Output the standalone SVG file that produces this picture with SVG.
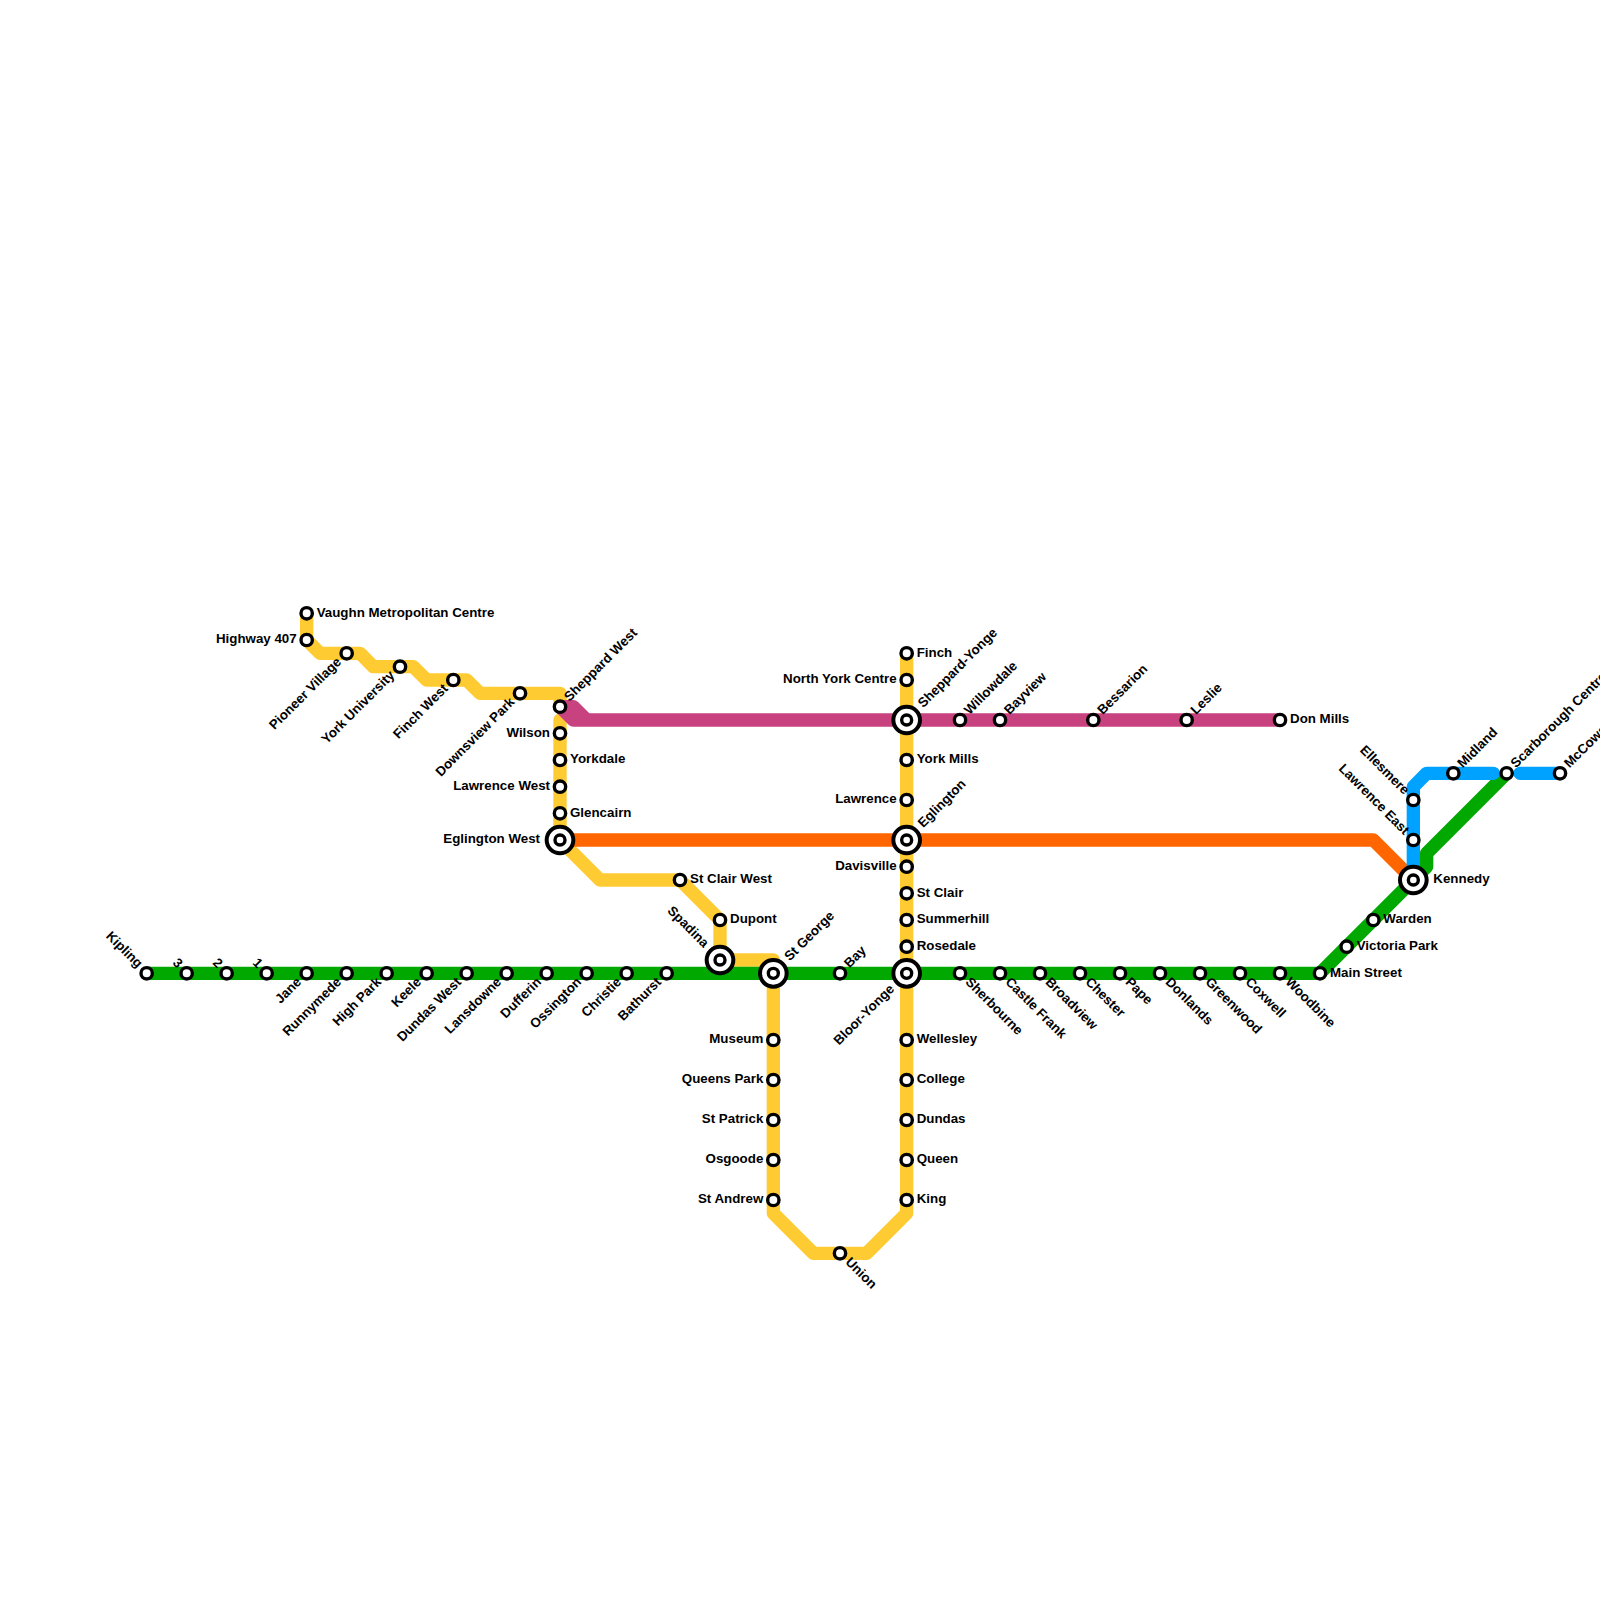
<svg xmlns="http://www.w3.org/2000/svg" width="1600" height="1600" viewBox="0 0 1600 1600">
<style>
.ln{fill:none;stroke-width:13.33;stroke-linejoin:round;stroke-linecap:round}
.y{stroke:#ffcb33}.g{stroke:#00a800}.o{stroke:#ff6600}.p{stroke:#c94280}.b{stroke:#00a2ff}
.s{fill:#fff;stroke:#000;stroke-width:3.4}
.r{fill:#fff;stroke:#000;stroke-width:4}
text{font-family:"Liberation Sans",Arial,sans-serif;font-size:13.33px;font-weight:bold;fill:#000}
.e{text-anchor:end}
</style>
<rect width="1600" height="1600" fill="#fff"/>
<g id="connectors">
<path class="ln y" d="M306.67 613.33V640L320 653.33H360L373.33 666.67H413.33L426.67 680H466.67L480 693.33H560V706.67"/>
<path class="ln y" d="M560 720V840L600 880H680L720 920V960H773.33V1213.33L813.33 1253.33H866.67L906.67 1213.33V653.33"/>
<path class="ln g" d="M146.67 973.33H1320L1413.33 880L1426.67 866.67V853.33L1506.67 773.33"/>
<path class="ln o" d="M560 840H1373.33L1413.33 880"/>
<path class="ln p" d="M560 706.67H573.33L586.67 720H1280M560 706.67L573.33 720H586.67"/>
<path class="ln b" d="M1413.33 880V786.67L1426.67 773.33H1493.33M1520 773.33H1560"/>
</g>
<g id="kipling"><circle class="s" cx="146.67" cy="973.33" r="5.67"/><text class="e" transform="translate(146.67 973.33) rotate(45)" x="-10" y="3.33">Kipling</text></g>
<g id="st3"><circle class="s" cx="186.67" cy="973.33" r="5.67"/><text class="e" transform="translate(186.67 973.33) rotate(45)" x="-10" y="3.33">3</text></g>
<g id="st2"><circle class="s" cx="226.67" cy="973.33" r="5.67"/><text class="e" transform="translate(226.67 973.33) rotate(45)" x="-10" y="3.33">2</text></g>
<g id="st1"><circle class="s" cx="266.67" cy="973.33" r="5.67"/><text class="e" transform="translate(266.67 973.33) rotate(45)" x="-10" y="3.33">1</text></g>
<g id="jane"><circle class="s" cx="306.67" cy="973.33" r="5.67"/><text class="e" transform="translate(306.67 973.33) rotate(-45)" x="-10" y="3.33">Jane</text></g>
<g id="runnymede"><circle class="s" cx="346.67" cy="973.33" r="5.67"/><text class="e" transform="translate(346.67 973.33) rotate(-45)" x="-10" y="3.33">Runnymede</text></g>
<g id="high-park"><circle class="s" cx="386.67" cy="973.33" r="5.67"/><text class="e" transform="translate(386.67 973.33) rotate(-45)" x="-10" y="3.33">High Park</text></g>
<g id="keele"><circle class="s" cx="426.67" cy="973.33" r="5.67"/><text class="e" transform="translate(426.67 973.33) rotate(-45)" x="-10" y="3.33">Keele</text></g>
<g id="dundas-west"><circle class="s" cx="466.67" cy="973.33" r="5.67"/><text class="e" transform="translate(466.67 973.33) rotate(-45)" x="-10" y="3.33">Dundas West</text></g>
<g id="lansdowne"><circle class="s" cx="506.67" cy="973.33" r="5.67"/><text class="e" transform="translate(506.67 973.33) rotate(-45)" x="-10" y="3.33">Lansdowne</text></g>
<g id="dufferin"><circle class="s" cx="546.67" cy="973.33" r="5.67"/><text class="e" transform="translate(546.67 973.33) rotate(-45)" x="-10" y="3.33">Dufferin</text></g>
<g id="ossington"><circle class="s" cx="586.67" cy="973.33" r="5.67"/><text class="e" transform="translate(586.67 973.33) rotate(-45)" x="-10" y="3.33">Ossington</text></g>
<g id="christie"><circle class="s" cx="626.67" cy="973.33" r="5.67"/><text class="e" transform="translate(626.67 973.33) rotate(-45)" x="-10" y="3.33">Christie</text></g>
<g id="bathurst"><circle class="s" cx="666.67" cy="973.33" r="5.67"/><text class="e" transform="translate(666.67 973.33) rotate(-45)" x="-10" y="3.33">Bathurst</text></g>
<g id="spadina"><circle class="r" cx="720" cy="960" r="13.33"/><circle class="s" cx="720" cy="960" r="5"/><text class="e" transform="translate(720 960) rotate(45)" x="-20" y="3.33">Spadina</text></g>
<g id="st-george"><circle class="r" cx="773.33" cy="973.33" r="13.33"/><circle class="s" cx="773.33" cy="973.33" r="5"/><text transform="translate(773.33 973.33) rotate(-45)" x="20" y="3.33">St George</text></g>
<g id="bay"><circle class="s" cx="840" cy="973.33" r="5.67"/><text transform="translate(840 973.33) rotate(-45)" x="10" y="3.33">Bay</text></g>
<g id="bloor-yonge"><circle class="r" cx="906.67" cy="973.33" r="13.33"/><circle class="s" cx="906.67" cy="973.33" r="5"/><text class="e" transform="translate(906.67 973.33) rotate(-45)" x="-20" y="3.33">Bloor-Yonge</text></g>
<g id="sherbourne"><circle class="s" cx="960" cy="973.33" r="5.67"/><text transform="translate(960 973.33) rotate(45)" x="10" y="3.33">Sherbourne</text></g>
<g id="castle-frank"><circle class="s" cx="1000" cy="973.33" r="5.67"/><text transform="translate(1000 973.33) rotate(45)" x="10" y="3.33">Castle Frank</text></g>
<g id="broadview"><circle class="s" cx="1040" cy="973.33" r="5.67"/><text transform="translate(1040 973.33) rotate(45)" x="10" y="3.33">Broadview</text></g>
<g id="chester"><circle class="s" cx="1080" cy="973.33" r="5.67"/><text transform="translate(1080 973.33) rotate(45)" x="10" y="3.33">Chester</text></g>
<g id="pape"><circle class="s" cx="1120" cy="973.33" r="5.67"/><text transform="translate(1120 973.33) rotate(45)" x="10" y="3.33">Pape</text></g>
<g id="donlands"><circle class="s" cx="1160" cy="973.33" r="5.67"/><text transform="translate(1160 973.33) rotate(45)" x="10" y="3.33">Donlands</text></g>
<g id="greenwood"><circle class="s" cx="1200" cy="973.33" r="5.67"/><text transform="translate(1200 973.33) rotate(45)" x="10" y="3.33">Greenwood</text></g>
<g id="coxwell"><circle class="s" cx="1240" cy="973.33" r="5.67"/><text transform="translate(1240 973.33) rotate(45)" x="10" y="3.33">Coxwell</text></g>
<g id="woodbine"><circle class="s" cx="1280" cy="973.33" r="5.67"/><text transform="translate(1280 973.33) rotate(45)" x="10" y="3.33">Woodbine</text></g>
<g id="main-street"><circle class="s" cx="1320" cy="973.33" r="5.67"/><text x="1330" y="976.67">Main Street</text></g>
<g id="victoria-park"><circle class="s" cx="1346.67" cy="946.67" r="5.67"/><text x="1356.67" y="950">Victoria Park</text></g>
<g id="warden"><circle class="s" cx="1373.33" cy="920" r="5.67"/><text x="1383.33" y="923.33">Warden</text></g>
<g id="kennedy"><circle class="r" cx="1413.33" cy="880" r="13.33"/><circle class="s" cx="1413.33" cy="880" r="5"/><text x="1433.33" y="883.33">Kennedy</text></g>
<g id="lawrence-east"><circle class="s" cx="1413.33" cy="840" r="5.67"/><text class="e" transform="translate(1413.33 840) rotate(45)" x="-10" y="3.33">Lawrence East</text></g>
<g id="ellesmere"><circle class="s" cx="1413.33" cy="800" r="5.67"/><text class="e" transform="translate(1413.33 800) rotate(45)" x="-10" y="3.33">Ellesmere</text></g>
<g id="midland"><circle class="s" cx="1453.33" cy="773.33" r="5.67"/><text transform="translate(1453.33 773.33) rotate(-45)" x="10" y="3.33">Midland</text></g>
<g id="scarborough-centre"><circle class="s" cx="1506.67" cy="773.33" r="5.67"/><text transform="translate(1506.67 773.33) rotate(-45)" x="10" y="3.33">Scarborough Centre</text></g>
<g id="mccowan"><circle class="s" cx="1560" cy="773.33" r="5.67"/><text transform="translate(1560 773.33) rotate(-45)" x="10" y="3.33">McCowan</text></g>
<g id="vaughn"><circle class="s" cx="306.67" cy="613.33" r="5.67"/><text x="316.67" y="616.67">Vaughn Metropolitan Centre</text></g>
<g id="highway-407"><circle class="s" cx="306.67" cy="640" r="5.67"/><text class="e" x="296.67" y="643.33">Highway 407</text></g>
<g id="pioneer-village"><circle class="s" cx="346.67" cy="653.33" r="5.67"/><text class="e" transform="translate(346.67 653.33) rotate(-45)" x="-10" y="3.33">Pioneer Village</text></g>
<g id="york-university"><circle class="s" cx="400" cy="666.67" r="5.67"/><text class="e" transform="translate(400 666.67) rotate(-45)" x="-10" y="3.33">York University</text></g>
<g id="finch-west"><circle class="s" cx="453.33" cy="680" r="5.67"/><text class="e" transform="translate(453.33 680) rotate(-45)" x="-10" y="3.33">Finch West</text></g>
<g id="downsview-park"><circle class="s" cx="520" cy="693.33" r="5.67"/><text class="e" transform="translate(520 693.33) rotate(-45)" x="-10" y="3.33">Downsview Park</text></g>
<g id="sheppard-west"><circle class="s" cx="560" cy="706.67" r="5.67"/><text transform="translate(560 706.67) rotate(-45)" x="10" y="3.33">Sheppard West</text></g>
<g id="wilson"><circle class="s" cx="560" cy="733.33" r="5.67"/><text class="e" x="550" y="736.67">Wilson</text></g>
<g id="yorkdale"><circle class="s" cx="560" cy="760" r="5.67"/><text x="570" y="763.33">Yorkdale</text></g>
<g id="lawrence-west"><circle class="s" cx="560" cy="786.67" r="5.67"/><text class="e" x="550" y="790">Lawrence West</text></g>
<g id="glencairn"><circle class="s" cx="560" cy="813.33" r="5.67"/><text x="570" y="816.67">Glencairn</text></g>
<g id="eglinton-west"><circle class="r" cx="560" cy="840" r="13.33"/><circle class="s" cx="560" cy="840" r="5"/><text class="e" x="540" y="843.33">Eglington West</text></g>
<g id="st-clair-west"><circle class="s" cx="680" cy="880" r="5.67"/><text x="690" y="883.33">St Clair West</text></g>
<g id="dupont"><circle class="s" cx="720" cy="920" r="5.67"/><text x="730" y="923.33">Dupont</text></g>
<g id="museum"><circle class="s" cx="773.33" cy="1040" r="5.67"/><text class="e" x="763.33" y="1043.33">Museum</text></g>
<g id="queens-park"><circle class="s" cx="773.33" cy="1080" r="5.67"/><text class="e" x="763.33" y="1083.33">Queens Park</text></g>
<g id="st-patrick"><circle class="s" cx="773.33" cy="1120" r="5.67"/><text class="e" x="763.33" y="1123.33">St Patrick</text></g>
<g id="osgoode"><circle class="s" cx="773.33" cy="1160" r="5.67"/><text class="e" x="763.33" y="1163.33">Osgoode</text></g>
<g id="st-andrew"><circle class="s" cx="773.33" cy="1200" r="5.67"/><text class="e" x="763.33" y="1203.33">St Andrew</text></g>
<g id="union"><circle class="s" cx="840" cy="1253.33" r="5.67"/><text transform="translate(840 1253.33) rotate(45)" x="10" y="3.33">Union</text></g>
<g id="king"><circle class="s" cx="906.67" cy="1200" r="5.67"/><text x="916.67" y="1203.33">King</text></g>
<g id="queen"><circle class="s" cx="906.67" cy="1160" r="5.67"/><text x="916.67" y="1163.33">Queen</text></g>
<g id="dundas"><circle class="s" cx="906.67" cy="1120" r="5.67"/><text x="916.67" y="1123.33">Dundas</text></g>
<g id="college"><circle class="s" cx="906.67" cy="1080" r="5.67"/><text x="916.67" y="1083.33">College</text></g>
<g id="wellesley"><circle class="s" cx="906.67" cy="1040" r="5.67"/><text x="916.67" y="1043.33">Wellesley</text></g>
<g id="rosedale"><circle class="s" cx="906.67" cy="946.67" r="5.67"/><text x="916.67" y="950">Rosedale</text></g>
<g id="summerhill"><circle class="s" cx="906.67" cy="920" r="5.67"/><text x="916.67" y="923.33">Summerhill</text></g>
<g id="st-clair"><circle class="s" cx="906.67" cy="893.33" r="5.67"/><text x="916.67" y="896.67">St Clair</text></g>
<g id="davisville"><circle class="s" cx="906.67" cy="866.67" r="5.67"/><text class="e" x="896.67" y="870">Davisville</text></g>
<g id="eglinton"><circle class="r" cx="906.67" cy="840" r="13.33"/><circle class="s" cx="906.67" cy="840" r="5"/><text transform="translate(906.67 840) rotate(-45)" x="20" y="3.33">Eglington</text></g>
<g id="lawrence"><circle class="s" cx="906.67" cy="800" r="5.67"/><text class="e" x="896.67" y="803.33">Lawrence</text></g>
<g id="york-mills"><circle class="s" cx="906.67" cy="760" r="5.67"/><text x="916.67" y="763.33">York Mills</text></g>
<g id="sheppard-yonge"><circle class="r" cx="906.67" cy="720" r="13.33"/><circle class="s" cx="906.67" cy="720" r="5"/><text transform="translate(906.67 720) rotate(-45)" x="20" y="3.33">Sheppard-Yonge</text></g>
<g id="north-york-centre"><circle class="s" cx="906.67" cy="680" r="5.67"/><text class="e" x="896.67" y="683.33">North York Centre</text></g>
<g id="finch"><circle class="s" cx="906.67" cy="653.33" r="5.67"/><text x="916.67" y="656.67">Finch</text></g>
<g id="willowdale"><circle class="s" cx="960" cy="720" r="5.67"/><text transform="translate(960 720) rotate(-45)" x="10" y="3.33">Willowdale</text></g>
<g id="bayview"><circle class="s" cx="1000" cy="720" r="5.67"/><text transform="translate(1000 720) rotate(-45)" x="10" y="3.33">Bayview</text></g>
<g id="bessarion"><circle class="s" cx="1093.33" cy="720" r="5.67"/><text transform="translate(1093.33 720) rotate(-45)" x="10" y="3.33">Bessarion</text></g>
<g id="leslie"><circle class="s" cx="1186.67" cy="720" r="5.67"/><text transform="translate(1186.67 720) rotate(-45)" x="10" y="3.33">Leslie</text></g>
<g id="don-mills"><circle class="s" cx="1280" cy="720" r="5.67"/><text x="1290" y="723.33">Don Mills</text></g>
</svg>
